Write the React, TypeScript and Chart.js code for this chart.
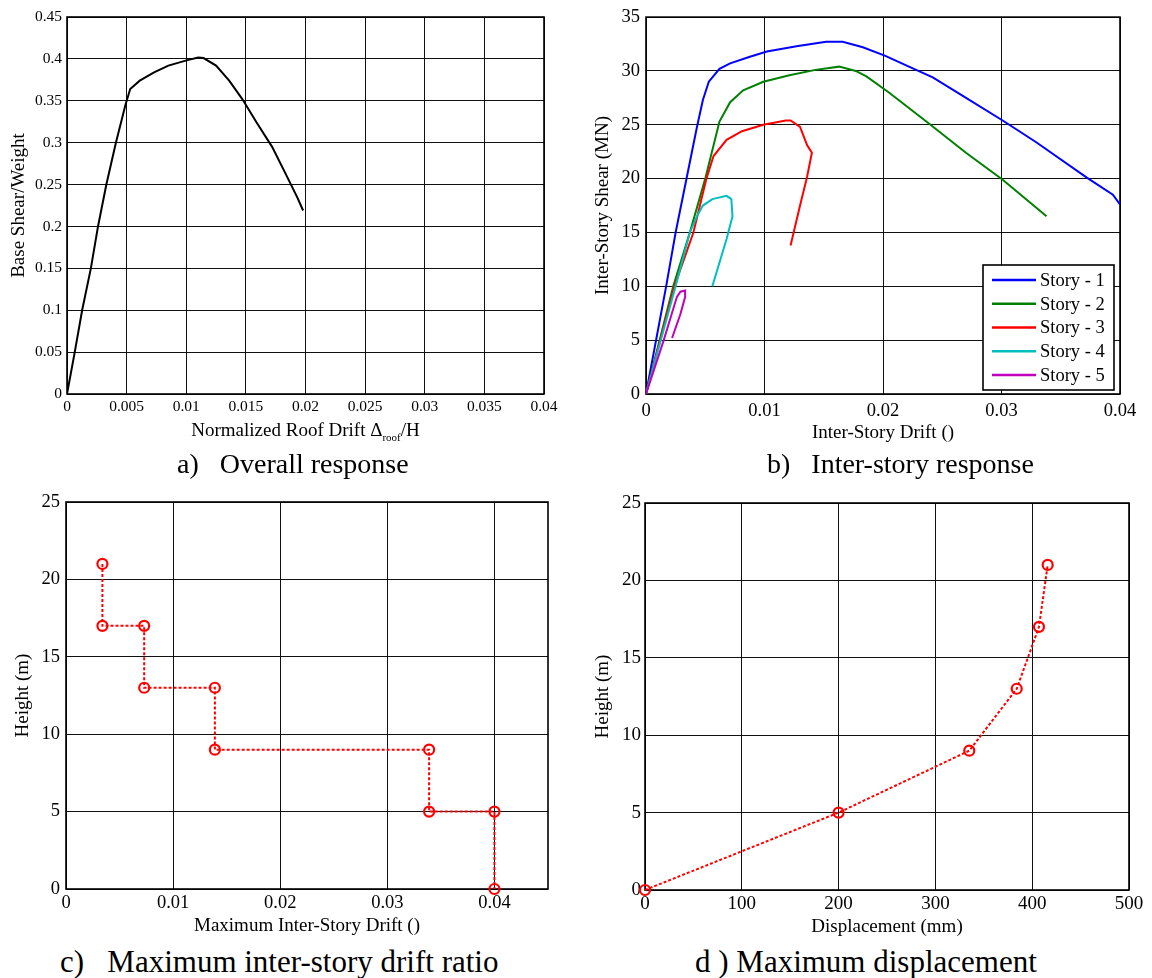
import React, { useEffect, useRef } from "react";
import { Chart, registerables } from "chart.js";
Chart.register(...registerables);

const FONT = "'Liberation Serif', 'Times New Roman', Times, serif";

// ---------- a) Overall response ----------
const roofDrift = [0, 0.00065, 0.00127, 0.002, 0.0026, 0.0033, 0.0041, 0.0049, 0.0053, 0.0061, 0.0073, 0.0085, 0.0101, 0.011, 0.01145, 0.0125, 0.0136, 0.0147, 0.0159, 0.0172, 0.0184, 0.0193, 0.0198];
const baseShearRatio = [0, 0.05, 0.1, 0.15, 0.2, 0.25, 0.3, 0.345, 0.364, 0.374, 0.384, 0.392, 0.3985, 0.4015, 0.401, 0.392, 0.374, 0.352, 0.324, 0.295, 0.261, 0.235, 0.219];

// ---------- b) Inter-story response ----------
const storyLabels = ["Story - 1", "Story - 2", "Story - 3", "Story - 4", "Story - 5"];
const storyColors = ["#0000ff", "#008000", "#ff0000", "#00bfbf", "#bf00bf"];
const story1Drift = [0, 0.0017, 0.0025, 0.0034, 0.0043, 0.0048, 0.0053, 0.0062, 0.0071, 0.0087, 0.0102, 0.0127, 0.0152, 0.0166, 0.0183, 0.0202, 0.022, 0.0242, 0.0267, 0.0301, 0.0329, 0.0372, 0.0394, 0.04];
const story1Shear = [0, 10, 15, 19.9, 24.8, 27.3, 29.0, 30.2, 30.7, 31.3, 31.8, 32.3, 32.7, 32.7, 32.2, 31.4, 30.5, 29.4, 27.7, 25.4, 23.4, 20.1, 18.5, 17.6];
const story2Drift = [0, 0.0023, 0.0037, 0.005, 0.0062, 0.0071, 0.0082, 0.0099, 0.0121, 0.0143, 0.0163, 0.0177, 0.0186, 0.0205, 0.0239, 0.027, 0.0301, 0.0338];
const story2Shear = [0, 10, 15, 20, 25.3, 27.1, 28.2, 29.0, 29.6, 30.1, 30.4, 30.0, 29.5, 28.0, 25.1, 22.4, 19.9, 16.5];
const story3Drift = [0, 0.0024, 0.004, 0.0051, 0.0057, 0.0068, 0.0081, 0.0099, 0.0118, 0.0122, 0.013, 0.0136, 0.014, 0.0136, 0.013, 0.0122];
const story3Shear = [0, 10, 15, 20, 22.1, 23.6, 24.4, 25.0, 25.4, 25.4, 24.8, 23.1, 22.4, 20.2, 17.5, 13.8];
const story4Drift = [0, 0.0025, 0.0037, 0.0043, 0.0048, 0.0056, 0.0068, 0.0072, 0.0073, 0.0068, 0.0056];
const story4Shear = [0, 10, 15, 16.5, 17.5, 18.1, 18.4, 18.1, 16.5, 14.4, 10.0];
const story5Drift = [0, 0.0015, 0.0026, 0.0029, 0.0033, 0.0033, 0.0029, 0.0022];
const story5Shear = [0, 5, 9.0, 9.5, 9.6, 9.0, 7.4, 5.2];

// ---------- c) Maximum inter-story drift ratio ----------
const maxDrift = [0.0034, 0.0034, 0.0073, 0.0073, 0.0139, 0.0139, 0.0339, 0.0339, 0.04, 0.04];
const driftHeight = [21, 17, 17, 13, 13, 9, 9, 5, 5, 0];

// ---------- d) Maximum displacement ----------
const maxDisp = [0, 200, 335, 384, 407, 416];
const dispHeight = [0, 5, 9, 13, 17, 21];

// ---------- texts ----------
const titleA = "a)   Overall response";
const titleB = "b)   Inter-story response";
const titleC = "c)   Maximum inter-story drift ratio";
const titleD = "d ) Maximum displacement";
const xTitleAMain = "Normalized Roof Drift \u0394";
const xTitleASub = "roof";
const xTitleAEnd = "/H";
const yTitleA = "Base Shear/Weight";
const xTitleB = "Inter-Story Drift ()";
const yTitleB = "Inter-Story Shear (MN)";
const xTitleC = "Maximum Inter-Story Drift ()";
const yTitleC = "Height (m)";
const xTitleD = "Displacement (mm)";
const yTitleD = "Height (m)";

const fmt = (v: any) => String(parseFloat(Number(v).toFixed(6)));

const pts = (xs: number[], ys: number[]) => xs.map((x, i) => ({ x, y: ys[i] }));

const boxPlugin = {
  id: "boxPlugin",
  beforeDatasetsDraw(chart: any) {
    const { ctx, chartArea: a } = chart;
    ctx.save();
    ctx.strokeStyle = "#000";
    ctx.lineWidth = 1.6;
    ctx.strokeRect(a.left, a.top, a.right - a.left, a.bottom - a.top);
    ctx.restore();
  },
};

function axis(o: any) {
  return {
    type: "linear",
    min: o.min,
    max: o.max,
    ticks: {
      stepSize: o.step,
      includeBounds: false,
      autoSkip: false,
      maxRotation: 0,
      color: "#000",
      padding: o.tickPad,
      font: { family: FONT, size: o.tickSize },
      callback: fmt,
    },
    grid: { color: "#111", lineWidth: 1, drawTicks: false },
    border: { display: false },
    title: o.title
      ? {
          display: true,
          text: o.title,
          color: "#000",
          font: { family: FONT, size: o.titleSize || 19 },
          padding: o.titlePad,
        }
      : { display: false },
    afterFit: (s: any) => {
      if (o.horizontal) s.height = o.size;
      else s.width = o.size;
    },
  };
}

function useChart(ref: any, cfg: () => any) {
  useEffect(() => {
    const c = new Chart(ref.current, cfg());
    return () => c.destroy();
  }, []);
}

function ChartA() {
  const ref = useRef<HTMLCanvasElement>(null);
  useChart(ref, () => ({
    type: "scatter",
    data: {
      datasets: [
        {
          data: pts(roofDrift, baseShearRatio),
          showLine: true,
          borderColor: "#000",
          borderWidth: 2,
          pointRadius: 0,
        },
      ],
    },
    options: {
      responsive: false,
      animation: false,
      layout: { padding: { left: 0, top: 17, right: 32, bottom: 0 } },
      plugins: { legend: { display: false }, tooltip: { enabled: false } },
      scales: {
        x: axis({ min: 0, max: 0.04, step: 0.005, tickPad: 4, tickSize: 15.5, horizontal: true, size: 56 }),
        y: axis({ min: 0, max: 0.45, step: 0.05, tickPad: 5, tickSize: 15.5, size: 67, title: yTitleA, titlePad: { top: 8, bottom: 0 } }),
      },
    },
    plugins: [
      boxPlugin,
      {
        id: "xTitleSub",
        afterDraw(chart: any) {
          const { ctx, chartArea: a } = chart;
          ctx.save();
          ctx.fillStyle = "#000";
          ctx.textBaseline = "alphabetic";
          ctx.font = `19px ${FONT}`;
          const w1 = ctx.measureText(xTitleAMain).width;
          const w3 = ctx.measureText(xTitleAEnd).width;
          ctx.font = `11px ${FONT}`;
          const w2 = ctx.measureText(xTitleASub).width;
          const total = w1 + w2 + w3;
          let x = (a.left + a.right) / 2 - total / 2;
          const base = 436;
          ctx.font = `19px ${FONT}`;
          ctx.fillText(xTitleAMain, x, base);
          x += w1;
          ctx.font = `11px ${FONT}`;
          ctx.fillText(xTitleASub, x, base + 5);
          x += w2;
          ctx.font = `19px ${FONT}`;
          ctx.fillText(xTitleAEnd, x, base);
          ctx.restore();
        },
      },
    ],
  }));
  return <canvas ref={ref} width={576} height={450} style={{ display: "block" }} />;
}

function ChartB() {
  const ref = useRef<HTMLCanvasElement>(null);
  const series = [
    [story1Drift, story1Shear],
    [story2Drift, story2Shear],
    [story3Drift, story3Shear],
    [story4Drift, story4Shear],
    [story5Drift, story5Shear],
  ];
  useChart(ref, () => ({
    type: "scatter",
    data: {
      datasets: series.map((s, i) => ({
        label: storyLabels[i],
        data: pts(s[0], s[1]),
        showLine: true,
        borderColor: storyColors[i],
        backgroundColor: storyColors[i],
        borderWidth: 2,
        pointRadius: 0,
        order: 5 - i,
      })),
    },
    options: {
      responsive: false,
      animation: false,
      layout: { padding: { left: 0, top: 16, right: 32, bottom: 0 } },
      plugins: { legend: { display: false }, tooltip: { enabled: false } },
      scales: {
        x: axis({ min: 0, max: 0.04, step: 0.01, tickPad: 6, tickSize: 18.5, horizontal: true, size: 56, title: xTitleB, titlePad: { top: 0, bottom: 6 } }),
        y: axis({ min: 0, max: 35, step: 5, tickPad: 6, tickSize: 18.5, size: 70, title: yTitleB, titlePad: { top: 16, bottom: 0 } }),
      },
    },
    plugins: [
      boxPlugin,
      {
        id: "boxLegend",
        afterDraw(chart: any) {
          const { ctx, chartArea: a } = chart;
          const w = 131;
          const h = 125;
          const left = a.right - 6 - w;
          const top = a.bottom - 4 - h;
          ctx.save();
          ctx.fillStyle = "#fff";
          ctx.fillRect(left, top, w, h);
          ctx.strokeStyle = "#000";
          ctx.lineWidth = 1.6;
          ctx.strokeRect(left, top, w, h);
          ctx.font = `18.5px ${FONT}`;
          ctx.textBaseline = "middle";
          chart.data.datasets.forEach((ds: any, i: number) => {
            const y = top + 15 + i * 23.75;
            ctx.strokeStyle = ds.borderColor;
            ctx.lineWidth = 2.5;
            ctx.beginPath();
            ctx.moveTo(left + 9, y);
            ctx.lineTo(left + 53, y);
            ctx.stroke();
            ctx.fillStyle = "#000";
            ctx.fillText(ds.label, left + 57, y + 1);
          });
          ctx.restore();
        },
      },
    ],
  }));
  return <canvas ref={ref} width={576} height={450} style={{ display: "block" }} />;
}

function redDotted(xs: number[], ys: number[]) {
  return {
    data: pts(xs, ys),
    showLine: true,
    borderColor: "#ff0000",
    borderWidth: 2,
    borderDash: [3, 2],
    pointRadius: 5,
    pointBorderWidth: 2.2,
    pointBorderColor: "#ff0000",
    pointBackgroundColor: "rgba(0,0,0,0)",
    clip: false,
  };
}

function ChartC() {
  const ref = useRef<HTMLCanvasElement>(null);
  useChart(ref, () => ({
    type: "scatter",
    data: { datasets: [redDotted(maxDrift, driftHeight)] },
    options: {
      responsive: false,
      animation: false,
      layout: { padding: { left: 0, top: 22, right: 28, bottom: 0 } },
      plugins: { legend: { display: false }, tooltip: { enabled: false } },
      scales: {
        x: axis({ min: 0, max: 0.045, step: 0.01, tickPad: 3, tickSize: 18.5, horizontal: true, size: 51, title: xTitleC, titlePad: { top: 0, bottom: 3 } }),
        y: axis({ min: 0, max: 25, step: 5, tickPad: 6, tickSize: 18.5, size: 66, title: yTitleC, titlePad: { top: 12, bottom: 0 } }),
      },
    },
    plugins: [boxPlugin],
  }));
  return <canvas ref={ref} width={576} height={460} style={{ display: "block" }} />;
}

function ChartD() {
  const ref = useRef<HTMLCanvasElement>(null);
  useChart(ref, () => ({
    type: "scatter",
    data: { datasets: [redDotted(maxDisp, dispHeight)] },
    options: {
      responsive: false,
      animation: false,
      layout: { padding: { left: 0, top: 23, right: 23, bottom: 0 } },
      plugins: { legend: { display: false }, tooltip: { enabled: false } },
      scales: {
        x: axis({ min: 0, max: 500, step: 100, tickPad: 3, tickSize: 19, horizontal: true, size: 50, title: xTitleD, titlePad: { top: 0, bottom: 2 } }),
        y: axis({ min: 0, max: 25, step: 5, tickPad: 4, tickSize: 19, size: 69, title: yTitleD, titlePad: { top: 16, bottom: 0 } }),
      },
    },
    plugins: [boxPlugin],
  }));
  return <canvas ref={ref} width={576} height={460} style={{ display: "block" }} />;
}

const cap = (left: number, top: number, size: number): React.CSSProperties => ({
  position: "absolute",
  left,
  top,
  fontFamily: FONT,
  fontSize: size,
  lineHeight: 1,
  whiteSpace: "pre",
  color: "#000",
});

export default function App() {
  return (
    <div style={{ position: "absolute", left: 0, top: 0, width: 1152, height: 978, background: "#fff", overflow: "hidden" }}>
      <div style={{ position: "absolute", left: 0, top: 0 }}><ChartA /></div>
      <div style={{ position: "absolute", left: 576, top: 0 }}><ChartB /></div>
      <div style={{ position: "absolute", left: 0, top: 480 }}><ChartC /></div>
      <div style={{ position: "absolute", left: 576, top: 480 }}><ChartD /></div>
      <div style={cap(177, 450, 28)}>{titleA}</div>
      <div style={cap(767, 450, 28)}>{titleB}</div>
      <div style={cap(60, 946, 31)}>{titleC}</div>
      <div style={cap(695, 946, 31)}>{titleD}</div>
    </div>
  );
}
